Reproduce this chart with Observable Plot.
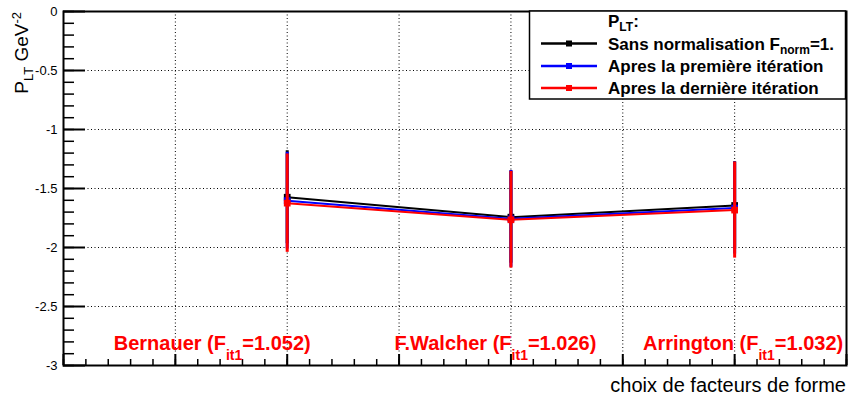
<!DOCTYPE html>
<html><head><meta charset="utf-8">
<script src="https://cdn.jsdelivr.net/npm/d3@7"></script>
<script src="https://cdn.jsdelivr.net/npm/@observablehq/plot@0.6"></script>
<style>body{margin:0;background:#fff} #chart{width:848px;height:398px}</style>
</head><body><div id="chart"></div>
<script>
// ---- data ----
const categories = ["Bernauer", "F.Walcher", "Arrington"];
const catX = [1, 2, 3];
const fit1 = ["1.052", "1.026", "1.032"];
const labelX = [0.667, 1.933, 3.04];
const labelY = -2.873;

const seriesNames = ["Sans normalisation", "Apres la première itération", "Apres la dernière itération"];
const seriesColors = ["#000000", "#0000ff", "#ff0000"];
const valsNoNorm = [-1.574, -1.743, -1.644];
const errNoNorm  = [0.394, 0.39, 0.37];
const valsFirst  = [-1.603, -1.757, -1.666];
const errFirst   = [0.41, 0.41, 0.39];
const valsLast   = [-1.624, -1.765, -1.683];
const errLast    = [0.417, 0.41, 0.407];

const yMajor = [0, -0.5, -1, -1.5, -2, -2.5, -3];
const yTickLabels = ["0", "-0.5", "-1", "-1.5", "-2", "-2.5", "-3"];
const xMajor = [0, 0.5, 1, 1.5, 2, 2.5, 3, 3.5];
const yMinor = d3.range(0, -3.0001, -0.1);
const xMinor = d3.range(0, 3.5001, 0.1);

// ---- table ----
const allVals = [valsNoNorm, valsFirst, valsLast];
const allErr = [errNoNorm, errFirst, errLast];
const rows = [];
seriesNames.forEach((s, i) => catX.forEach((x, j) => rows.push({s: i, x, y: allVals[i][j], e: allErr[i][j]})));

const W = 848, H = 398, mL = 63, mR = 2, mT = 11, mB = 33;
const pW = W - mL - mR, pH = H - mT - mB;
const font = "'Liberation Sans', Arial, Helvetica, sans-serif";

const seriesMarks = [];
seriesNames.forEach((s, i) => {
  const d = rows.filter(r => r.s === i);
  seriesMarks.push(
    Plot.ruleX(d, {x: "x", y1: r => r.y - r.e, y2: r => r.y + r.e, stroke: seriesColors[i], strokeWidth: 3}),
    Plot.line(d, {x: "x", y: "y", stroke: seriesColors[i], strokeWidth: 2}),
    Plot.dot(d, {x: "x", y: "y", symbol: "square", r: 3.8, fill: seriesColors[i], stroke: "none"})
  );
});

const plot = Plot.plot({
  width: W, height: H,
  marginLeft: mL, marginRight: mR, marginTop: mT, marginBottom: mB,
  x: {domain: [0, 3.5], axis: null},
  y: {domain: [-3, 0], axis: null},
  style: {fontFamily: font, background: "white", overflow: "visible"},
  marks: [
    Plot.ruleX(xMajor.slice(1, -1), {x: d => d, stroke: "black", strokeWidth: 1, strokeDasharray: "1,2.5"}),
    Plot.ruleY(yMajor.slice(1, -1), {y: d => d, stroke: "black", strokeWidth: 1, strokeDasharray: "1,2.5"}),
    Plot.tickY(yMinor, {y: d => d, insetRight: pW - 11, stroke: "black", strokeWidth: 1.5}),
    Plot.tickY(yMajor, {y: d => d, insetRight: pW - 22, stroke: "black", strokeWidth: 2}),
    Plot.tickX(xMinor, {x: d => d, insetTop: pH - 6, stroke: "black", strokeWidth: 1.5}),
    Plot.tickX(xMajor, {x: d => d, insetTop: pH - 11, stroke: "black", strokeWidth: 2}),
    Plot.text(yMajor, {x: 0, y: d => d, text: (d, i) => yTickLabels[i], textAnchor: "end", dx: -6, fontSize: 13, fill: "black"}),
    ...seriesMarks,
    Plot.frame({stroke: "black", strokeWidth: 2})
  ]
});
document.getElementById("chart").appendChild(plot);

const svg = d3.select(plot);
const sx = plot.scale("x"), sy = plot.scale("y");

// y-axis title
const yt = svg.append("text")
  .attr("transform", `translate(28,12) rotate(-90)`)
  .attr("text-anchor", "end").attr("font-family", font).attr("font-size", 19).attr("fill", "black");
yt.append("tspan").text("P");
yt.append("tspan").attr("font-size", 13).attr("dy", 5).text("LT");
yt.append("tspan").attr("dy", -5).text(" GeV");
yt.append("tspan").attr("font-size", 13).attr("dy", -7).text("-2");

// x-axis title
svg.append("text").attr("x", 846).attr("y", 392).attr("text-anchor", "end")
  .attr("font-family", font).attr("font-size", 20).attr("fill", "black")
  .text("choix de facteurs de forme");

// red category labels
categories.forEach((c, i) => {
  const t = svg.append("text")
    .attr("x", sx.apply(labelX[i])).attr("y", sy.apply(labelY))
    .attr("text-anchor", "middle").attr("font-family", font).attr("font-weight", "bold")
    .attr("font-size", 20).attr("fill", "#ff0000");
  t.append("tspan").text(c + " (F");
  t.append("tspan").attr("font-size", 14).attr("dy", 10).text("it1");
  t.append("tspan").attr("dy", -10).text("=" + fit1[i] + ")");
});

// legend
const lg = svg.append("g").attr("text-anchor", "start");
lg.append("rect").attr("x", 529.5).attr("y", 11).attr("width", 316).attr("height", 88)
  .attr("fill", "white").attr("stroke", "black").attr("stroke-width", 1.5);
const hdr = lg.append("text").attr("x", 608).attr("y", 27).attr("text-anchor", "start").attr("font-family", font)
  .attr("font-weight", "bold").attr("font-size", 17).attr("fill", "black");
hdr.append("tspan").text("P");
hdr.append("tspan").attr("font-size", 12).attr("dy", 4).text("LT");
hdr.append("tspan").attr("dy", -4).text(":");
const rowY = [43.5, 66, 88];
seriesNames.forEach((s, i) => {
  lg.append("line").attr("x1", 541).attr("x2", 597).attr("y1", rowY[i]).attr("y2", rowY[i])
    .attr("stroke", seriesColors[i]).attr("stroke-width", 2.5);
  lg.append("rect").attr("x", 566).attr("y", rowY[i] - 3).attr("width", 6).attr("height", 6)
    .attr("fill", seriesColors[i]);
  const t = lg.append("text").attr("x", 608).attr("y", rowY[i] + 6).attr("text-anchor", "start").attr("font-family", font)
    .attr("font-weight", "bold").attr("font-size", 17).attr("fill", "black");
  if (i === 0) {
    t.append("tspan").text(s + " F");
    t.append("tspan").attr("font-size", 12).attr("dy", 4).text("norm");
    t.append("tspan").attr("dy", -4).text("=1.");
  } else {
    t.text(s);
  }
});
</script>
</body></html>
